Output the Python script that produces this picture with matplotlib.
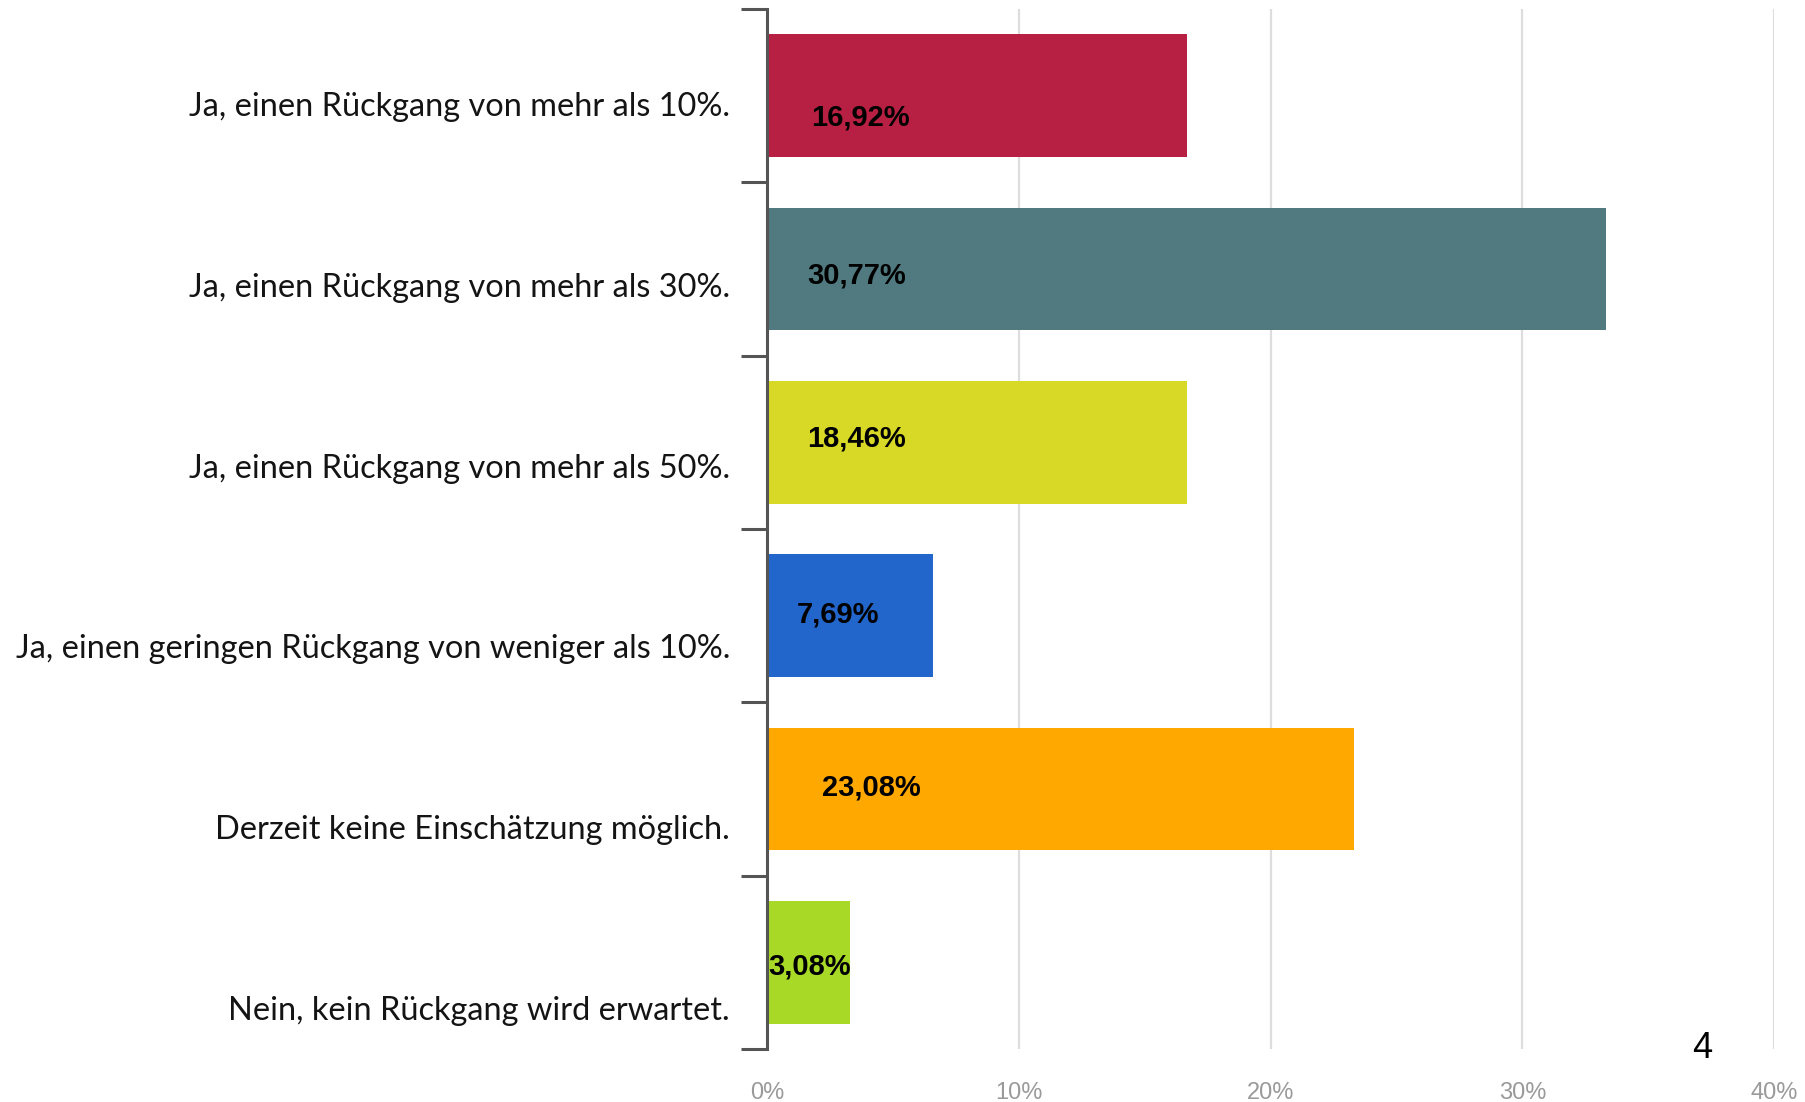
import matplotlib.pyplot as plt
import matplotlib.transforms as mtransforms

# Datos del gráfico
categories = [
    "Ja, einen Rückgang von mehr als 10%.",
    "Ja, einen Rückgang von mehr als 30%.",
    "Ja, einen Rückgang von mehr als 50%.",
    "Ja, einen geringen Rückgang von weniger als 10%.",
    "Derzeit keine Einschätzung möglich.",
    "Nein, kein Rückgang wird erwartet.",
]
bar_values = [16.67, 33.33, 16.67, 6.6, 23.33, 3.3]   # Länge der Balken (aus dem Bild)
value_labels = ["16,92%", "30,77%", "18,46%", "7,69%", "23,08%", "3,08%"]
colors = ["#B72042", "#507A80", "#D8D926", "#2266CC", "#FFA800", "#A8D926"]
xticks = [0, 10, 20, 30, 40]
xtick_labels = ["0%", "10%", "20%", "30%", "40%"]

# Position der Wertbeschriftungen (Versatz in x-% und in Kategorien)
label_dx = [1.75, 1.59, 1.59, 1.19, 2.19, 0.04]
label_dy = [0.125, 0.035, -0.025, -0.005, -0.01, 0.025]

fig = plt.figure(figsize=(18.06, 11.02), dpi=100)
ax = fig.add_axes([0.4247, 0.0481, 0.5576, 0.9437])

y = list(range(len(categories)))
ax.barh(y, bar_values, height=0.707, color=colors, zorder=2)

ax.set_xlim(0, 40)
ax.set_ylim(len(categories) - 0.5, -0.5)

# Gitterlinien
ax.set_xticks(xticks)
ax.set_xticklabels(xtick_labels, fontsize=17, color="#9a9a9a", family="Liberation Sans")
ax.tick_params(axis="x", length=0, pad=24)
ax.grid(axis="x", color="#dddddd", linewidth=1.6, zorder=0)
ax.set_axisbelow(True)

# Y-Achse mit Trennstrichen zwischen den Kategorien
ax.set_yticks([i - 0.5 for i in range(len(categories) + 1)])
ax.set_yticklabels([])
ax.tick_params(axis="y", length=19, width=2.2, color="#555555", direction="out")
for s in ["top", "right", "bottom"]:
    ax.spines[s].set_visible(False)
ax.spines["left"].set_color("#555555")
ax.spines["left"].set_linewidth(2.2)
ax.spines["left"].set_zorder(3)

# Kategorienbeschriftungen (leicht nach unten versetzt wie im Original)
trans = mtransforms.blended_transform_factory(ax.transAxes, ax.transData)
for i, cat in enumerate(categories):
    ax.text(-0.0367, 0.066 + i * 1.043, cat, transform=trans, ha="right", va="center",
            fontsize=23.4, family="Lato", color="#141414")

# Werte in den Balken
for i, lab in enumerate(value_labels):
    ax.text(label_dx[i], i + label_dy[i], lab, ha="left", va="center",
            fontsize=21, fontweight="bold", family="Liberation Sans", color="black", zorder=4)

# Seitenzahl
fig.text(1702 / 1806, 1 - 1048 / 1102, "4", ha="center", va="center",
         fontsize=26, family="Liberation Sans", color="black")

plt.savefig("out.png", dpi=100)
